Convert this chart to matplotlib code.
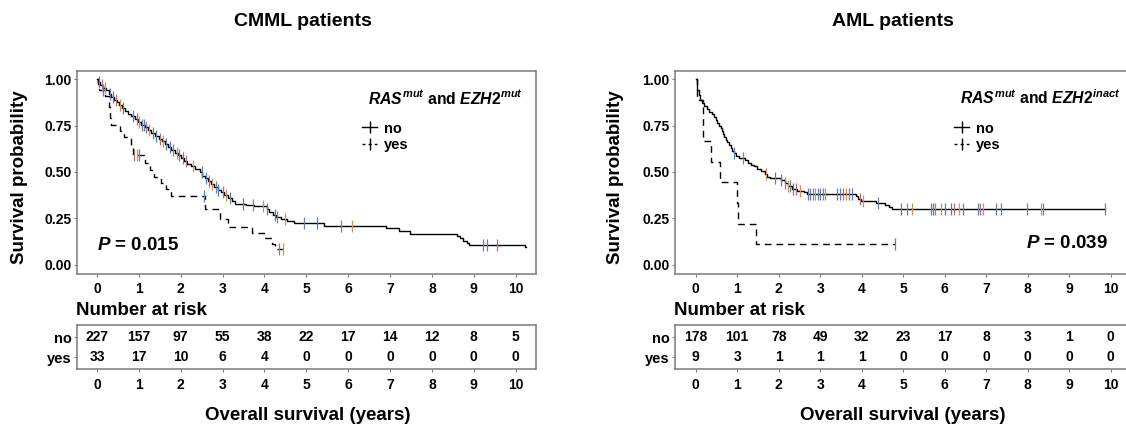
import numpy as np
import matplotlib
matplotlib.use('Agg')
import matplotlib.pyplot as plt
from matplotlib.lines import Line2D

plt.rcParams['font.family'] = ['Liberation Sans', 'DejaVu Sans']
plt.rcParams['font.weight'] = 'bold'
plt.rcParams['mathtext.fontset'] = 'custom'
plt.rcParams['mathtext.it'] = 'Liberation Sans:italic:bold'
plt.rcParams['mathtext.sf'] = 'Liberation Sans:italic'
plt.rcParams['mathtext.rm'] = 'Liberation Sans:bold'
plt.rcParams['mathtext.bf'] = 'Liberation Sans:bold'

# ---- CMML data ----
cmml_no_t = [0, 0.03, 0.08, 0.15, 0.22, 0.28, 0.33, 0.40, 0.47, 0.53, 0.60, 0.67, 0.75, 0.82,
             0.90, 0.97, 1.05, 1.14, 1.22, 1.30, 1.38, 1.47, 1.55, 1.63, 1.70, 1.78, 1.86, 1.93,
             2.00, 2.08, 2.15, 2.25, 2.35, 2.45, 2.52, 2.58, 2.65, 2.72, 2.80, 2.88, 2.96, 3.04,
             3.12, 3.22, 3.30, 3.55, 3.75, 4.05, 4.12, 4.20, 4.28, 4.40, 4.55, 4.70, 5.42, 6.90,
             7.22, 7.48, 8.60, 8.68, 8.75, 8.85, 8.88, 10.22]
cmml_no_s = [1.0, 0.985, 0.97, 0.955, 0.94, 0.92, 0.905, 0.89, 0.875, 0.86, 0.845, 0.83, 0.815, 0.80,
             0.785, 0.77, 0.755, 0.74, 0.725, 0.71, 0.695, 0.68, 0.665, 0.65, 0.635, 0.62, 0.605, 0.59,
             0.575, 0.56, 0.545, 0.53, 0.515, 0.50, 0.48, 0.465, 0.45, 0.435, 0.42, 0.405, 0.39, 0.375,
             0.36, 0.345, 0.33, 0.322, 0.315, 0.30, 0.285, 0.27, 0.257, 0.245, 0.235, 0.225, 0.21, 0.196,
             0.18, 0.166, 0.155, 0.142, 0.13, 0.118, 0.108, 0.095]
cmml_no_end = 10.26
cmml_no_cens = [0.05, 0.12, 0.2, 0.3, 0.38, 0.45, 0.55, 0.62, 0.85, 0.95, 1.0, 1.08, 1.12, 1.18,
                1.25, 1.33, 1.42, 1.5, 1.58, 1.65, 1.74, 1.82, 1.9, 1.97, 2.05, 2.12, 2.3, 2.5,
                2.6, 2.68, 2.75, 2.84, 2.9, 3.0, 3.08, 3.18, 3.5, 3.72, 3.97, 4.07, 4.25, 4.3,
                4.5, 4.94, 5.25, 5.82, 6.08, 9.21, 9.31, 9.56]

cmml_yes_t = [0, 0.03, 0.06, 0.2, 0.28, 0.31, 0.34, 0.55, 0.65, 0.82, 0.85, 1.15, 1.27, 1.36,
              1.52, 1.65, 1.78, 2.58, 2.95, 3.12, 3.7, 3.98, 4.17, 4.25]
cmml_yes_s = [1.0, 0.97, 0.94, 0.91, 0.85, 0.79, 0.755, 0.72, 0.69, 0.64, 0.59, 0.55, 0.51, 0.475,
              0.44, 0.41, 0.37, 0.30, 0.245, 0.205, 0.17, 0.145, 0.11, 0.083]
cmml_yes_end = 4.45
cmml_yes_cens = [0.15, 0.88, 0.95, 1.0, 2.55, 4.35, 4.45]

cmml_risk_no = [227, 157, 97, 55, 38, 22, 17, 14, 12, 8, 5]
cmml_risk_yes = [33, 17, 10, 6, 4, 0, 0, 0, 0, 0, 0]

# ---- AML data ----
aml_no_t = [0, 0.02, 0.04, 0.07, 0.10, 0.15, 0.20, 0.27, 0.33, 0.38, 0.43, 0.48, 0.52, 0.56,
            0.60, 0.63, 0.66, 0.69, 0.72, 0.76, 0.80, 0.84, 0.88, 0.93, 0.98, 1.05, 1.18, 1.25,
            1.32, 1.40, 1.48, 1.58, 1.66, 1.72, 1.80, 2.05, 2.15, 2.22, 2.32, 2.45, 2.60, 2.68,
            3.85, 3.90, 3.98, 4.35, 4.55, 4.65, 4.72]
aml_no_s = [1.0, 0.97, 0.94, 0.915, 0.89, 0.87, 0.855, 0.84, 0.825, 0.81, 0.795, 0.78, 0.765, 0.75,
            0.735, 0.72, 0.705, 0.69, 0.675, 0.66, 0.645, 0.63, 0.615, 0.60, 0.585, 0.575, 0.565, 0.55,
            0.54, 0.53, 0.515, 0.505, 0.49, 0.475, 0.465, 0.455, 0.44, 0.425, 0.41, 0.40, 0.39, 0.382,
            0.37, 0.355, 0.345, 0.333, 0.322, 0.31, 0.30]
aml_no_end = 9.86
aml_no_cens = [0.93, 1.15, 1.7, 1.92, 2.05, 2.15, 2.22, 2.28, 2.35, 2.42, 2.5, 2.7, 2.76, 2.82,
               2.88, 2.94, 3.0, 3.06, 3.12, 3.4, 3.48, 3.55, 3.62, 3.7, 3.76, 3.95, 4.02, 4.4,
               4.95, 5.08, 5.21, 5.67, 5.72, 5.77, 5.9, 6.01, 6.15, 6.23, 6.35, 6.43, 6.79, 6.84,
               6.93, 7.23, 7.35, 7.97, 8.33, 8.37, 9.86]

aml_yes_t = [0, 0.04, 0.17, 0.36, 0.58, 0.99, 1.03, 1.44]
aml_yes_s = [1.0, 0.889, 0.667, 0.556, 0.444, 0.333, 0.222, 0.111]
aml_yes_end = 4.79
aml_yes_cens = [4.79]

aml_risk_no = [178, 101, 78, 49, 32, 23, 17, 8, 3, 1, 0]
aml_risk_yes = [9, 3, 1, 1, 1, 0, 0, 0, 0, 0, 0]

years = list(range(0, 11))

W, H = 1126, 425
FRAME = '#7a7a7a'
CENS_COLS = ['#5b7db5', '#b0707a', '#c9955a', '#6c7f9c']


def pos(l, t, r, b):
    return [l / W, 1 - b / H, (r - l) / W, (b - t) / H]


def km(ax, t, s, end, cens, ls):
    t = np.asarray(t, float)
    s = np.asarray(s, float)
    ax.step(np.append(t, end), np.append(s, s[-1]), where='post', color='black',
            lw=1.0, linestyle=ls, zorder=3)
    c = np.asarray(cens, float)
    cy = s[np.searchsorted(t, c, side='right') - 1]
    for i, (cx, yy) in enumerate(zip(c, cy)):
        ax.plot(cx, yy, marker='|', markersize=8, markeredgewidth=0.9,
                color=CENS_COLS[i % len(CENS_COLS)], zorder=4)


def frame(ax):
    for sp in ax.spines.values():
        sp.set_color(FRAME)
        sp.set_linewidth(1.1)
    ax.tick_params(direction='out', length=2.5, width=0.8, color=FRAME,
                   labelsize=10, labelcolor='black')
    ax.tick_params(axis='x', pad=3.5)
    ax.tick_params(axis='y', pad=1.5)


def panel(l, r, xlim, no, yes, risk_no, risk_yes, gene2, ptxt, pxy, pha, leg_x, title, title_x, xl_x, yl_x):
    ax = fig.add_axes(pos(l, 70.7, r, 274))
    km(ax, *no, ls='-')
    km(ax, *yes, ls=(0, (4.8, 3.6)))
    ax.set_xlim(*xlim)
    ax.set_ylim(-0.05, 1.046)
    ax.set_xticks(years)
    ax.set_yticks([0, 0.25, 0.5, 0.75, 1.0])
    ax.set_yticklabels(['0.00', '0.25', '0.50', '0.75', '1.00'])
    frame(ax)
    ax.text(pxy[0], pxy[1], r'$\mathit{P}$ = ' + ptxt, fontsize=13.5, ha=pha, va='center')

    ax.text(leg_x, 0.866, r'$\mathit{RAS}^{\mathsf{mut}}$ and $\mathit{EZH2}^{\mathsf{' + gene2 + '}}$',
            transform=ax.transAxes, fontsize=11.3, ha='left', va='center')
    handles = [Line2D([], [], color='black', lw=1.0, marker='|', markersize=9, markeredgewidth=1.0),
               Line2D([], [], color='black', lw=1.0, linestyle=(0, (2.2, 2.2)), marker='|',
                      markersize=9, markeredgewidth=1.0)]
    ax.legend(handles, ['no', 'yes'], loc='upper left', bbox_to_anchor=(leg_x - 0.012, 0.75),
              frameon=False, fontsize=10.5, handlelength=1.0, handletextpad=0.5,
              labelspacing=0.2, borderpad=0, borderaxespad=0)

    tab = fig.add_axes(pos(l, 325, r, 369.3))
    tab.set_xlim(*xlim)
    tab.set_ylim(0.4, 2.6)
    tab.set_xticks(years)
    tab.set_yticks([1, 2])
    tab.set_yticklabels(['yes', 'no'])
    frame(tab)
    tab.tick_params(axis='y', labelsize=10.5)
    for x, n in zip(years, risk_no):
        tab.text(x, 2, str(n), ha='center', va='center', fontsize=10)
    for x, n in zip(years, risk_yes):
        tab.text(x, 1, str(n), ha='center', va='center', fontsize=10)
    tab.text(-0.003, 1.323, 'Number at risk', transform=tab.transAxes, fontsize=13.5,
             ha='left', va='center')

    fig.text(title_x / W, 1 - 22 / H, title, fontsize=14, ha='center', va='center')
    fig.text(xl_x / W, 1 - 415 / H, 'Overall survival (years)', fontsize=13.5,
             ha='center', va='center')
    fig.text(yl_x / W, 1 - 176.7 / H, 'Survival probability', fontsize=13.5,
             rotation=90, ha='center', va='center')


fig = plt.figure(figsize=(W / 100, H / 100), dpi=100)

panel(77.3, 535.7, (-0.47, 10.48),
      (cmml_no_t, cmml_no_s, cmml_no_end, cmml_no_cens),
      (cmml_yes_t, cmml_yes_s, cmml_yes_end, cmml_yes_cens),
      cmml_risk_no, cmml_risk_yes, 'mut', '0.015', (0.0, 0.106), 'left', 0.634,
      'CMML patients', 303, 307.5, 19.3)

panel(675, 1173, (-0.5, 11.5),
      (aml_no_t, aml_no_s, aml_no_end, aml_no_cens),
      (aml_yes_t, aml_yes_s, aml_yes_end, aml_yes_cens),
      aml_risk_no, aml_risk_yes, 'inact', '0.039', (9.93, 0.115), 'right', 0.573,
      'AML patients', 893, 903, 616)

fig.savefig('out.png', dpi=100)
